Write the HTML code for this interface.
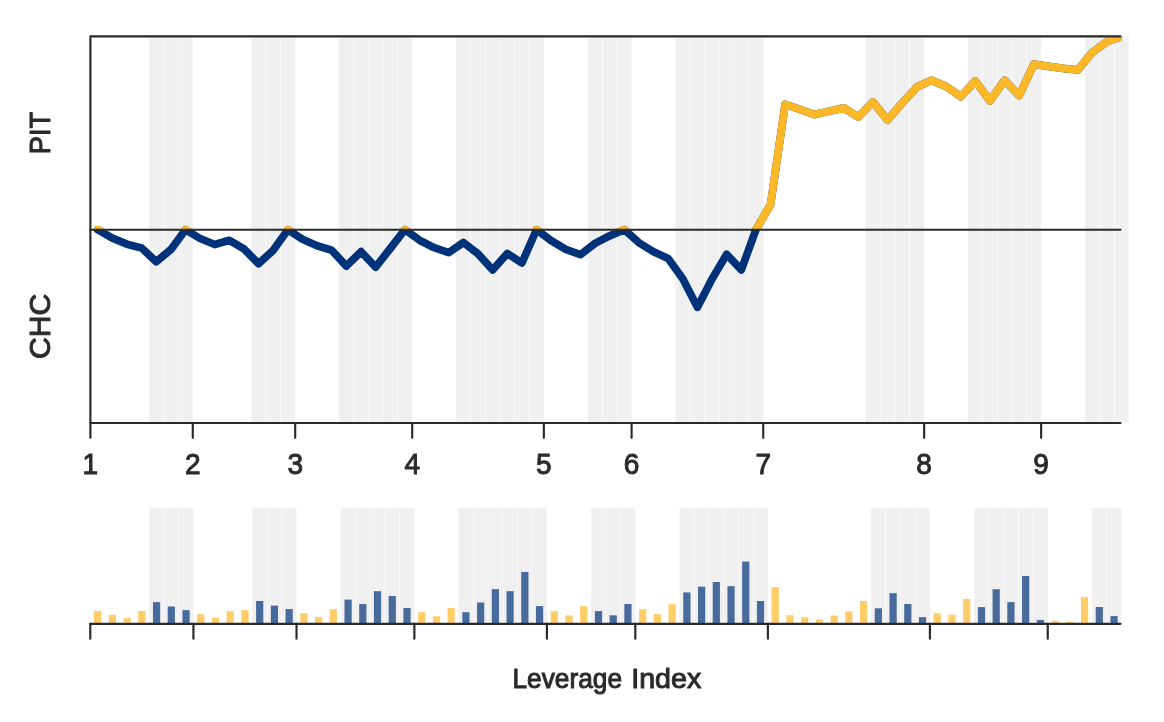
<!DOCTYPE html>
<html lang="en"><head><meta charset="utf-8"><title>Win Probability: CHC at PIT</title>
<style>html,body{margin:0;padding:0;background:#fff}svg{display:block}text{font-family:"Liberation Sans",sans-serif;fill:#2b2b2b;stroke:#2b2b2b;stroke-width:1px;stroke-linejoin:round}</style></head><body>
<svg width="1164" height="722" viewBox="0 0 1164 722">
<rect width="1164" height="722" fill="#fff"/>
<defs>
<clipPath id="cp"><rect x="90.4" y="36.4" width="1031.00" height="386.60"/></clipPath>
<clipPath id="cu"><rect x="90.4" y="36.4" width="1031.00" height="193.30"/></clipPath>
</defs>
<g fill="#F0F0F0">
<rect x="148.91" y="36.00" width="14.63" height="386.80"/>
<rect x="163.54" y="36.00" width="14.63" height="386.80"/>
<rect x="178.16" y="36.00" width="14.63" height="386.80"/>
<rect x="251.30" y="36.00" width="14.63" height="386.80"/>
<rect x="265.92" y="36.00" width="14.63" height="386.80"/>
<rect x="280.55" y="36.00" width="14.63" height="386.80"/>
<rect x="339.06" y="36.00" width="14.63" height="386.80"/>
<rect x="353.69" y="36.00" width="14.63" height="386.80"/>
<rect x="368.31" y="36.00" width="14.63" height="386.80"/>
<rect x="382.94" y="36.00" width="14.63" height="386.80"/>
<rect x="397.57" y="36.00" width="14.63" height="386.80"/>
<rect x="456.08" y="36.00" width="14.63" height="386.80"/>
<rect x="470.70" y="36.00" width="14.63" height="386.80"/>
<rect x="485.33" y="36.00" width="14.63" height="386.80"/>
<rect x="499.96" y="36.00" width="14.63" height="386.80"/>
<rect x="514.58" y="36.00" width="14.63" height="386.80"/>
<rect x="529.21" y="36.00" width="14.63" height="386.80"/>
<rect x="587.72" y="36.00" width="14.63" height="386.80"/>
<rect x="602.35" y="36.00" width="14.63" height="386.80"/>
<rect x="616.97" y="36.00" width="14.63" height="386.80"/>
<rect x="675.48" y="36.00" width="14.63" height="386.80"/>
<rect x="690.11" y="36.00" width="14.63" height="386.80"/>
<rect x="704.73" y="36.00" width="14.63" height="386.80"/>
<rect x="719.36" y="36.00" width="14.63" height="386.80"/>
<rect x="733.99" y="36.00" width="14.63" height="386.80"/>
<rect x="748.62" y="36.00" width="14.63" height="386.80"/>
<rect x="865.63" y="36.00" width="14.63" height="386.80"/>
<rect x="880.26" y="36.00" width="14.63" height="386.80"/>
<rect x="894.88" y="36.00" width="14.63" height="386.80"/>
<rect x="909.51" y="36.00" width="14.63" height="386.80"/>
<rect x="968.02" y="36.00" width="14.63" height="386.80"/>
<rect x="982.65" y="36.00" width="14.63" height="386.80"/>
<rect x="997.27" y="36.00" width="14.63" height="386.80"/>
<rect x="1011.90" y="36.00" width="14.63" height="386.80"/>
<rect x="1026.53" y="36.00" width="14.63" height="386.80"/>
<rect x="1085.04" y="36.00" width="14.63" height="386.80"/>
<rect x="1099.66" y="36.00" width="14.63" height="386.80"/>
<rect x="1114.29" y="36.00" width="14.63" height="386.80"/>
</g>
<g stroke="#fff" stroke-opacity="0.5" stroke-width="1">
<path d="M163.54,36.4 V423.0"/>
<path d="M178.16,36.4 V423.0"/>
<path d="M265.92,36.4 V423.0"/>
<path d="M280.55,36.4 V423.0"/>
<path d="M353.69,36.4 V423.0"/>
<path d="M368.31,36.4 V423.0"/>
<path d="M382.94,36.4 V423.0"/>
<path d="M397.57,36.4 V423.0"/>
<path d="M470.70,36.4 V423.0"/>
<path d="M485.33,36.4 V423.0"/>
<path d="M499.96,36.4 V423.0"/>
<path d="M514.58,36.4 V423.0"/>
<path d="M529.21,36.4 V423.0"/>
<path d="M602.35,36.4 V423.0"/>
<path d="M616.97,36.4 V423.0"/>
<path d="M690.11,36.4 V423.0"/>
<path d="M704.73,36.4 V423.0"/>
<path d="M719.36,36.4 V423.0"/>
<path d="M733.99,36.4 V423.0"/>
<path d="M748.62,36.4 V423.0"/>
<path d="M880.26,36.4 V423.0"/>
<path d="M894.88,36.4 V423.0"/>
<path d="M909.51,36.4 V423.0"/>
<path d="M982.65,36.4 V423.0"/>
<path d="M997.27,36.4 V423.0"/>
<path d="M1011.90,36.4 V423.0"/>
<path d="M1026.53,36.4 V423.0"/>
<path d="M1099.66,36.4 V423.0"/>
<path d="M1114.29,36.4 V423.0"/>
</g>
<polyline points="97.71,229.70 112.34,238.10 126.97,244.20 141.59,248.00 156.22,261.65 170.85,249.60 185.48,229.70 200.10,238.50 214.73,244.50 229.36,240.30 243.98,248.90 258.61,263.70 273.24,250.30 287.86,229.70 302.49,239.20 317.12,245.70 331.75,250.30 346.37,266.10 361.00,251.70 375.63,267.20 390.25,248.50 404.88,229.70 419.51,240.20 434.13,247.70 448.76,252.65 463.39,242.45 478.02,253.80 492.64,269.96 507.27,253.50 521.90,263.00 536.52,229.70 551.15,240.60 565.78,249.30 580.40,254.70 595.03,243.40 609.66,235.80 624.29,229.70 638.91,242.70 653.54,251.70 668.17,258.50 682.79,278.80 697.42,307.30 712.05,279.00 726.67,254.30 741.30,269.90 755.93,229.70 770.56,204.50 785.18,104.30 799.81,109.40 814.44,114.55 829.06,111.20 843.69,107.90 858.32,117.00 872.94,102.00 887.57,120.10 902.20,103.00 916.83,87.10 931.45,80.30 946.08,86.40 960.71,96.70 975.33,81.00 989.96,100.90 1004.59,80.30 1019.21,95.50 1033.84,64.20 1048.47,66.40 1063.10,68.40 1077.72,69.90 1092.35,52.30 1106.98,41.70 1121.60,36.50" fill="none" stroke="#003279" stroke-width="7.75" stroke-linejoin="round" stroke-linecap="round" clip-path="url(#cp)"/>
<polyline points="97.71,229.70 112.34,238.10 126.97,244.20 141.59,248.00 156.22,261.65 170.85,249.60 185.48,229.70 200.10,238.50 214.73,244.50 229.36,240.30 243.98,248.90 258.61,263.70 273.24,250.30 287.86,229.70 302.49,239.20 317.12,245.70 331.75,250.30 346.37,266.10 361.00,251.70 375.63,267.20 390.25,248.50 404.88,229.70 419.51,240.20 434.13,247.70 448.76,252.65 463.39,242.45 478.02,253.80 492.64,269.96 507.27,253.50 521.90,263.00 536.52,229.70 551.15,240.60 565.78,249.30 580.40,254.70 595.03,243.40 609.66,235.80 624.29,229.70 638.91,242.70 653.54,251.70 668.17,258.50 682.79,278.80 697.42,307.30 712.05,279.00 726.67,254.30 741.30,269.90 755.93,229.70 770.56,204.50 785.18,104.30 799.81,109.40 814.44,114.55 829.06,111.20 843.69,107.90 858.32,117.00 872.94,102.00 887.57,120.10 902.20,103.00 916.83,87.10 931.45,80.30 946.08,86.40 960.71,96.70 975.33,81.00 989.96,100.90 1004.59,80.30 1019.21,95.50 1033.84,64.20 1048.47,66.40 1063.10,68.40 1077.72,69.90 1092.35,52.30 1106.98,41.70 1121.60,36.50" fill="none" stroke="#FDB827" stroke-width="7.75" stroke-linejoin="round" stroke-linecap="round" clip-path="url(#cu)"/>
<g fill="none" stroke="#2a2a2a" stroke-width="2.15" stroke-linecap="round" stroke-linejoin="round">
<path d="M1120.5,36.4 H90.4 V423.0 H1120.5"/>
<path d="M90.4,229.7 H1120.5"/>
<path d="M90.40,423.0 V437.8"/>
<path d="M192.79,423.0 V437.8"/>
<path d="M295.18,423.0 V437.8"/>
<path d="M412.19,423.0 V437.8"/>
<path d="M543.84,423.0 V437.8"/>
<path d="M631.60,423.0 V437.8"/>
<path d="M763.24,423.0 V437.8"/>
<path d="M924.14,423.0 V437.8"/>
<path d="M1041.15,423.0 V437.8"/>
</g>
<g font-size="29.5" text-anchor="middle">
<text transform="translate(90.40,474.1) scale(0.95,1)">1</text>
<text transform="translate(192.79,474.1) scale(0.95,1)">2</text>
<text transform="translate(295.18,474.1) scale(0.95,1)">3</text>
<text transform="translate(412.19,474.1) scale(0.95,1)">4</text>
<text transform="translate(543.84,474.1) scale(0.95,1)">5</text>
<text transform="translate(631.60,474.1) scale(0.95,1)">6</text>
<text transform="translate(763.24,474.1) scale(0.95,1)">7</text>
<text transform="translate(924.14,474.1) scale(0.95,1)">8</text>
<text transform="translate(1041.15,474.1) scale(0.95,1)">9</text>
</g>
<text transform="translate(50.2,133.05) rotate(-90)" font-size="30.2" text-anchor="middle" textLength="42.3" lengthAdjust="spacingAndGlyphs">PIT</text>
<text transform="translate(50.2,326.35) rotate(-90)" font-size="30.2" text-anchor="middle" textLength="65.5" lengthAdjust="spacingAndGlyphs">CHC</text>
<g fill="#F0F0F0">
<rect x="149.22" y="508.0" width="14.73" height="115.85"/>
<rect x="163.95" y="508.0" width="14.73" height="115.85"/>
<rect x="178.68" y="508.0" width="14.73" height="115.85"/>
<rect x="252.33" y="508.0" width="14.73" height="115.85"/>
<rect x="267.06" y="508.0" width="14.73" height="115.85"/>
<rect x="281.79" y="508.0" width="14.73" height="115.85"/>
<rect x="340.71" y="508.0" width="14.73" height="115.85"/>
<rect x="355.44" y="508.0" width="14.73" height="115.85"/>
<rect x="370.17" y="508.0" width="14.73" height="115.85"/>
<rect x="384.90" y="508.0" width="14.73" height="115.85"/>
<rect x="399.63" y="508.0" width="14.73" height="115.85"/>
<rect x="458.55" y="508.0" width="14.73" height="115.85"/>
<rect x="473.28" y="508.0" width="14.73" height="115.85"/>
<rect x="488.01" y="508.0" width="14.73" height="115.85"/>
<rect x="502.74" y="508.0" width="14.73" height="115.85"/>
<rect x="517.47" y="508.0" width="14.73" height="115.85"/>
<rect x="532.20" y="508.0" width="14.73" height="115.85"/>
<rect x="591.12" y="508.0" width="14.73" height="115.85"/>
<rect x="605.85" y="508.0" width="14.73" height="115.85"/>
<rect x="620.58" y="508.0" width="14.73" height="115.85"/>
<rect x="679.50" y="508.0" width="14.73" height="115.85"/>
<rect x="694.23" y="508.0" width="14.73" height="115.85"/>
<rect x="708.96" y="508.0" width="14.73" height="115.85"/>
<rect x="723.69" y="508.0" width="14.73" height="115.85"/>
<rect x="738.42" y="508.0" width="14.73" height="115.85"/>
<rect x="753.15" y="508.0" width="14.73" height="115.85"/>
<rect x="870.99" y="508.0" width="14.73" height="115.85"/>
<rect x="885.72" y="508.0" width="14.73" height="115.85"/>
<rect x="900.45" y="508.0" width="14.73" height="115.85"/>
<rect x="915.18" y="508.0" width="14.73" height="115.85"/>
<rect x="974.10" y="508.0" width="14.73" height="115.85"/>
<rect x="988.83" y="508.0" width="14.73" height="115.85"/>
<rect x="1003.56" y="508.0" width="14.73" height="115.85"/>
<rect x="1018.29" y="508.0" width="14.73" height="115.85"/>
<rect x="1033.02" y="508.0" width="14.73" height="115.85"/>
<rect x="1091.94" y="508.0" width="14.73" height="115.85"/>
<rect x="1106.67" y="508.0" width="14.73" height="115.85"/>
</g>
<g stroke="#fff" stroke-opacity="0.5" stroke-width="1">
<path d="M163.95,508.0 V623.85"/>
<path d="M178.68,508.0 V623.85"/>
<path d="M267.06,508.0 V623.85"/>
<path d="M281.79,508.0 V623.85"/>
<path d="M355.44,508.0 V623.85"/>
<path d="M370.17,508.0 V623.85"/>
<path d="M384.90,508.0 V623.85"/>
<path d="M399.63,508.0 V623.85"/>
<path d="M473.28,508.0 V623.85"/>
<path d="M488.01,508.0 V623.85"/>
<path d="M502.74,508.0 V623.85"/>
<path d="M517.47,508.0 V623.85"/>
<path d="M532.20,508.0 V623.85"/>
<path d="M605.85,508.0 V623.85"/>
<path d="M620.58,508.0 V623.85"/>
<path d="M694.23,508.0 V623.85"/>
<path d="M708.96,508.0 V623.85"/>
<path d="M723.69,508.0 V623.85"/>
<path d="M738.42,508.0 V623.85"/>
<path d="M753.15,508.0 V623.85"/>
<path d="M885.72,508.0 V623.85"/>
<path d="M900.45,508.0 V623.85"/>
<path d="M915.18,508.0 V623.85"/>
<path d="M988.83,508.0 V623.85"/>
<path d="M1003.56,508.0 V623.85"/>
<path d="M1018.29,508.0 V623.85"/>
<path d="M1033.02,508.0 V623.85"/>
<path d="M1106.67,508.0 V623.85"/>
</g>
<rect x="94.06" y="610.96" width="7.2" height="12.89" fill="#FDB827" fill-opacity="0.7"/>
<rect x="108.80" y="614.80" width="7.2" height="9.05" fill="#FDB827" fill-opacity="0.7"/>
<rect x="123.53" y="618.10" width="7.2" height="5.75" fill="#FDB827" fill-opacity="0.7"/>
<rect x="138.25" y="610.96" width="7.2" height="12.89" fill="#FDB827" fill-opacity="0.7"/>
<rect x="152.98" y="602.10" width="7.2" height="21.75" fill="#003279" fill-opacity="0.7"/>
<rect x="167.72" y="606.50" width="7.2" height="17.35" fill="#003279" fill-opacity="0.7"/>
<rect x="182.45" y="610.10" width="7.2" height="13.75" fill="#003279" fill-opacity="0.7"/>
<rect x="197.18" y="614.20" width="7.2" height="9.65" fill="#FDB827" fill-opacity="0.7"/>
<rect x="211.91" y="617.90" width="7.2" height="5.95" fill="#FDB827" fill-opacity="0.7"/>
<rect x="226.64" y="611.20" width="7.2" height="12.65" fill="#FDB827" fill-opacity="0.7"/>
<rect x="241.36" y="610.10" width="7.2" height="13.75" fill="#FDB827" fill-opacity="0.7"/>
<rect x="256.09" y="601.00" width="7.2" height="22.85" fill="#003279" fill-opacity="0.7"/>
<rect x="270.82" y="605.60" width="7.2" height="18.25" fill="#003279" fill-opacity="0.7"/>
<rect x="285.56" y="609.10" width="7.2" height="14.75" fill="#003279" fill-opacity="0.7"/>
<rect x="300.28" y="613.20" width="7.2" height="10.65" fill="#FDB827" fill-opacity="0.7"/>
<rect x="315.01" y="617.10" width="7.2" height="6.75" fill="#FDB827" fill-opacity="0.7"/>
<rect x="329.75" y="609.10" width="7.2" height="14.75" fill="#FDB827" fill-opacity="0.7"/>
<rect x="344.48" y="599.60" width="7.2" height="24.25" fill="#003279" fill-opacity="0.7"/>
<rect x="359.20" y="604.10" width="7.2" height="19.75" fill="#003279" fill-opacity="0.7"/>
<rect x="373.94" y="591.20" width="7.2" height="32.65" fill="#003279" fill-opacity="0.7"/>
<rect x="388.67" y="596.00" width="7.2" height="27.85" fill="#003279" fill-opacity="0.7"/>
<rect x="403.39" y="608.00" width="7.2" height="15.85" fill="#003279" fill-opacity="0.7"/>
<rect x="418.12" y="612.20" width="7.2" height="11.65" fill="#FDB827" fill-opacity="0.7"/>
<rect x="432.86" y="616.30" width="7.2" height="7.55" fill="#FDB827" fill-opacity="0.7"/>
<rect x="447.58" y="608.10" width="7.2" height="15.75" fill="#FDB827" fill-opacity="0.7"/>
<rect x="462.31" y="612.20" width="7.2" height="11.65" fill="#003279" fill-opacity="0.7"/>
<rect x="477.05" y="602.50" width="7.2" height="21.35" fill="#003279" fill-opacity="0.7"/>
<rect x="491.77" y="589.10" width="7.2" height="34.75" fill="#003279" fill-opacity="0.7"/>
<rect x="506.50" y="591.20" width="7.2" height="32.65" fill="#003279" fill-opacity="0.7"/>
<rect x="521.24" y="571.90" width="7.2" height="51.95" fill="#003279" fill-opacity="0.7"/>
<rect x="535.96" y="606.10" width="7.2" height="17.75" fill="#003279" fill-opacity="0.7"/>
<rect x="550.69" y="611.10" width="7.2" height="12.75" fill="#FDB827" fill-opacity="0.7"/>
<rect x="565.42" y="615.50" width="7.2" height="8.35" fill="#FDB827" fill-opacity="0.7"/>
<rect x="580.15" y="606.20" width="7.2" height="17.65" fill="#FDB827" fill-opacity="0.7"/>
<rect x="594.88" y="611.10" width="7.2" height="12.75" fill="#003279" fill-opacity="0.7"/>
<rect x="609.61" y="615.30" width="7.2" height="8.55" fill="#003279" fill-opacity="0.7"/>
<rect x="624.34" y="604.00" width="7.2" height="19.85" fill="#003279" fill-opacity="0.7"/>
<rect x="639.07" y="609.20" width="7.2" height="14.65" fill="#FDB827" fill-opacity="0.7"/>
<rect x="653.80" y="614.10" width="7.2" height="9.75" fill="#FDB827" fill-opacity="0.7"/>
<rect x="668.53" y="604.10" width="7.2" height="19.75" fill="#FDB827" fill-opacity="0.7"/>
<rect x="683.26" y="592.40" width="7.2" height="31.45" fill="#003279" fill-opacity="0.7"/>
<rect x="698.00" y="586.70" width="7.2" height="37.15" fill="#003279" fill-opacity="0.7"/>
<rect x="712.72" y="582.00" width="7.2" height="41.85" fill="#003279" fill-opacity="0.7"/>
<rect x="727.45" y="586.20" width="7.2" height="37.65" fill="#003279" fill-opacity="0.7"/>
<rect x="742.18" y="561.60" width="7.2" height="62.25" fill="#003279" fill-opacity="0.7"/>
<rect x="756.91" y="601.00" width="7.2" height="22.85" fill="#003279" fill-opacity="0.7"/>
<rect x="771.64" y="587.20" width="7.2" height="36.65" fill="#FDB827" fill-opacity="0.7"/>
<rect x="786.38" y="615.30" width="7.2" height="8.55" fill="#FDB827" fill-opacity="0.7"/>
<rect x="801.10" y="617.30" width="7.2" height="6.55" fill="#FDB827" fill-opacity="0.7"/>
<rect x="815.83" y="619.50" width="7.2" height="4.35" fill="#FDB827" fill-opacity="0.7"/>
<rect x="830.56" y="615.50" width="7.2" height="8.35" fill="#FDB827" fill-opacity="0.7"/>
<rect x="845.29" y="611.30" width="7.2" height="12.55" fill="#FDB827" fill-opacity="0.7"/>
<rect x="860.02" y="601.00" width="7.2" height="22.85" fill="#FDB827" fill-opacity="0.7"/>
<rect x="874.75" y="608.30" width="7.2" height="15.55" fill="#003279" fill-opacity="0.7"/>
<rect x="889.48" y="593.20" width="7.2" height="30.65" fill="#003279" fill-opacity="0.7"/>
<rect x="904.21" y="604.00" width="7.2" height="19.85" fill="#003279" fill-opacity="0.7"/>
<rect x="918.94" y="617.10" width="7.2" height="6.75" fill="#003279" fill-opacity="0.7"/>
<rect x="933.67" y="613.20" width="7.2" height="10.65" fill="#FDB827" fill-opacity="0.7"/>
<rect x="948.40" y="614.70" width="7.2" height="9.15" fill="#FDB827" fill-opacity="0.7"/>
<rect x="963.13" y="598.90" width="7.2" height="24.95" fill="#FDB827" fill-opacity="0.7"/>
<rect x="977.87" y="607.10" width="7.2" height="16.75" fill="#003279" fill-opacity="0.7"/>
<rect x="992.59" y="589.20" width="7.2" height="34.65" fill="#003279" fill-opacity="0.7"/>
<rect x="1007.32" y="602.10" width="7.2" height="21.75" fill="#003279" fill-opacity="0.7"/>
<rect x="1022.05" y="576.00" width="7.2" height="47.85" fill="#003279" fill-opacity="0.7"/>
<rect x="1036.79" y="619.90" width="7.2" height="3.95" fill="#003279" fill-opacity="0.7"/>
<rect x="1051.52" y="620.90" width="7.2" height="2.95" fill="#FDB827" fill-opacity="0.7"/>
<rect x="1066.25" y="621.70" width="7.2" height="2.15" fill="#FDB827" fill-opacity="0.7"/>
<rect x="1080.98" y="597.10" width="7.2" height="26.75" fill="#FDB827" fill-opacity="0.7"/>
<rect x="1095.71" y="607.00" width="7.2" height="16.85" fill="#003279" fill-opacity="0.7"/>
<rect x="1110.44" y="616.05" width="7.2" height="7.80" fill="#003279" fill-opacity="0.7"/>
<g fill="none" stroke="#2a2a2a" stroke-width="2.15" stroke-linecap="round" stroke-linejoin="round">
<path d="M90.3,623.85 H1120.5"/>
<path d="M90.30,623.85 V638.65"/>
<path d="M193.41,623.85 V638.65"/>
<path d="M296.52,623.85 V638.65"/>
<path d="M414.36,623.85 V638.65"/>
<path d="M546.93,623.85 V638.65"/>
<path d="M635.31,623.85 V638.65"/>
<path d="M767.88,623.85 V638.65"/>
<path d="M929.91,623.85 V638.65"/>
<path d="M1047.75,623.85 V638.65"/>
</g>
<text transform="translate(0,688.45) scale(1,1.02)" font-size="27"><tspan x="512.5" textLength="109.5" lengthAdjust="spacingAndGlyphs">Leverage</tspan><tspan> </tspan><tspan x="631.2" textLength="70" lengthAdjust="spacingAndGlyphs">Index</tspan></text>
</svg></body></html>
